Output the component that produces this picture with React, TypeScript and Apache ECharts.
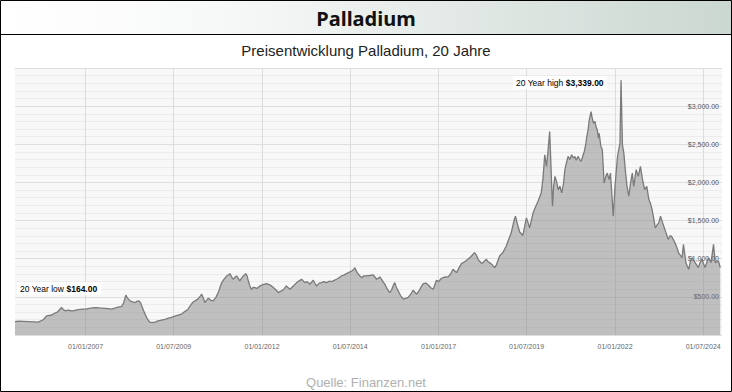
import React, { useEffect, useRef } from "react";
import * as echarts from "echarts";

// decimal years (time of each reading) and price in USD per ounce
const years = [
  2005.0, 2005.1, 2005.25, 2005.4, 2005.55, 2005.66, 2005.8, 2005.9, 2006.04, 2006.12,
  2006.2, 2006.28, 2006.32, 2006.38, 2006.42, 2006.5, 2006.58, 2006.65, 2006.75, 2006.9,
  2007.0, 2007.15, 2007.27, 2007.4, 2007.55, 2007.65, 2007.74, 2007.85, 2007.95, 2008.02,
  2008.08, 2008.14, 2008.18, 2008.26, 2008.33, 2008.4, 2008.46, 2008.51, 2008.56, 2008.59,
  2008.66, 2008.73, 2008.78, 2008.82, 2008.9, 2008.97, 2009.05, 2009.15, 2009.25, 2009.35,
  2009.43, 2009.55, 2009.65, 2009.72, 2009.82, 2009.9, 2009.96, 2010.03, 2010.1, 2010.18,
  2010.25, 2010.29, 2010.34, 2010.38, 2010.44, 2010.48, 2010.55, 2010.62, 2010.7, 2010.76,
  2010.82, 2010.86, 2010.92, 2011.0, 2011.05, 2011.09, 2011.14, 2011.18, 2011.24, 2011.28,
  2011.33, 2011.37, 2011.42, 2011.47, 2011.54, 2011.58, 2011.6, 2011.65, 2011.7, 2011.75,
  2011.8, 2011.86, 2011.94, 2012.03, 2012.13, 2012.2, 2012.27, 2012.35, 2012.42, 2012.46,
  2012.55, 2012.62, 2012.69, 2012.74, 2012.79, 2012.88, 2012.98, 2013.05, 2013.12, 2013.21,
  2013.28, 2013.35, 2013.45, 2013.54, 2013.62, 2013.68, 2013.75, 2013.83, 2013.9, 2013.97,
  2014.04, 2014.11, 2014.18, 2014.25, 2014.32, 2014.39, 2014.46, 2014.54, 2014.6, 2014.63,
  2014.68, 2014.73, 2014.78, 2014.82, 2014.89, 2014.96, 2015.05, 2015.15, 2015.25, 2015.34,
  2015.4, 2015.48, 2015.55, 2015.62, 2015.67, 2015.72, 2015.76, 2015.81, 2015.86, 2015.92,
  2016.0, 2016.07, 2016.14, 2016.22, 2016.28, 2016.33, 2016.38, 2016.45, 2016.52, 2016.57,
  2016.64, 2016.71, 2016.78, 2016.85, 2016.94, 2017.0, 2017.08, 2017.17, 2017.27, 2017.34,
  2017.41, 2017.46, 2017.51, 2017.58, 2017.65, 2017.74, 2017.83, 2017.92, 2018.02, 2018.07,
  2018.12, 2018.18, 2018.23, 2018.3, 2018.36, 2018.4, 2018.45, 2018.52, 2018.59, 2018.64,
  2018.68, 2018.73, 2018.82, 2018.92, 2018.97, 2019.06, 2019.14, 2019.18, 2019.22, 2019.3,
  2019.39, 2019.44, 2019.49, 2019.54, 2019.58, 2019.63, 2019.68, 2019.75, 2019.82, 2019.91,
  2019.96, 2020.01, 2020.06, 2020.1, 2020.15, 2020.18, 2020.21, 2020.23, 2020.26, 2020.3,
  2020.35, 2020.39, 2020.44, 2020.49, 2020.54, 2020.58, 2020.62, 2020.67, 2020.72, 2020.77,
  2020.82, 2020.86, 2020.9, 2020.95, 2021.0, 2021.04, 2021.09, 2021.13, 2021.17, 2021.2,
  2021.24, 2021.27, 2021.32, 2021.35, 2021.39, 2021.43, 2021.46, 2021.5, 2021.53, 2021.55,
  2021.6, 2021.64, 2021.69, 2021.74, 2021.78, 2021.83, 2021.87, 2021.92, 2021.95, 2022.0,
  2022.07, 2022.14, 2022.17, 2022.21, 2022.25, 2022.3, 2022.34, 2022.39, 2022.44, 2022.49,
  2022.53, 2022.6, 2022.66, 2022.72, 2022.78, 2022.84, 2022.9, 2022.96, 2023.0, 2023.05,
  2023.1, 2023.14, 2023.19, 2023.24, 2023.29, 2023.35, 2023.43, 2023.51, 2023.56, 2023.6,
  2023.7, 2023.75, 2023.8, 2023.9, 2023.94, 2024.01, 2024.05, 2024.09, 2024.13, 2024.18,
  2024.27, 2024.36, 2024.41, 2024.46, 2024.55, 2024.6, 2024.65, 2024.72, 2024.79, 2024.84,
  2024.93, 2024.98,
];

const prices = [
  174, 180, 178, 176, 172, 168, 200, 252, 262, 285,
  300, 340, 360, 330, 317, 325, 318, 317, 330, 340,
  338, 352, 360, 355, 350, 345, 340, 355, 370, 373,
  420, 522, 490, 448, 435, 426, 440, 448, 420, 383,
  300, 230, 190, 168, 164, 170, 185, 195, 205, 220,
  230, 250, 265, 274, 310, 335, 380, 426, 448, 470,
  510, 535, 480, 426, 460, 483, 455, 448, 500, 556,
  640, 687, 730, 774, 790, 804, 760, 731, 760, 774,
  740, 709, 745, 774, 804, 770, 731, 650, 600, 625,
  621, 610, 643, 660, 674, 660, 643, 610, 580, 556,
  578, 600, 643, 620, 600, 640, 687, 710, 731, 687,
  700, 665, 717, 643, 680, 687, 700, 687, 705, 700,
  715, 731, 750, 774, 785, 804, 820, 839, 860, 883,
  830, 796, 770, 752, 775, 774, 780, 787, 731, 761,
  720, 665, 600, 556, 590, 650, 687, 620, 578, 520,
  470, 480, 492, 540, 587, 560, 535, 580, 640, 674,
  680, 656, 620, 600, 718, 700, 744, 760, 761, 800,
  861, 840, 818, 880, 935, 960, 992, 1030, 1078, 1050,
  992, 960, 935, 970, 992, 960, 948, 920, 883, 920,
  970, 1035, 1078, 1166, 1231, 1339, 1501, 1557, 1480, 1350,
  1305, 1420, 1535, 1470, 1405, 1500, 1600, 1680, 1753, 1862,
  2050, 2363, 2210, 2400, 2667, 2300, 1900, 1688, 1950, 2080,
  2000, 1906, 1950, 1862, 1980, 2167, 2250, 2341, 2300, 2363,
  2320, 2341, 2290, 2341, 2300, 2276, 2350, 2406, 2500, 2602,
  2700, 2820, 2928, 2850, 2776, 2800, 2733, 2680, 2580, 2645,
  2471, 2428, 1992, 2080, 2123, 2036, 2123, 1775, 1557, 1949,
  2341, 2515, 3339, 2493, 2384, 2123, 1949, 1819, 1992, 2123,
  1949, 2167, 2080, 2210, 2036, 1906, 1949, 1775, 1731, 1645,
  1520, 1405, 1440, 1470, 1557, 1470, 1362, 1253, 1300, 1296,
  1209, 1150, 1078, 1013, 1188, 948, 900, 861, 950, 1013,
  948, 883, 950, 992, 883, 950, 1013, 948, 1188, 948,
  970, 883,
];

const xTickLabels = [
  "01/01/2007", "01/07/2009", "01/01/2012", "01/07/2014",
  "01/01/2017", "01/07/2019", "01/01/2022", "01/07/2024",
];
const yTickValues = [500, 1000, 1500, 2000, 2500, 3000];

function yearToTs(y: number): number {
  const yr = Math.floor(y);
  const start = Date.UTC(yr, 0, 1);
  const end = Date.UTC(yr + 1, 0, 1);
  return start + (y - yr) * (end - start);
}
function parseTick(s: string): number {
  const [d, m, y] = s.split("/").map(Number);
  return Date.UTC(y, m - 1, d);
}
function money(v: number): string {
  return "$" + v.toLocaleString("en-US", { minimumFractionDigits: 2, maximumFractionDigits: 2 });
}

export default function App() {
  const ref = useRef<HTMLDivElement>(null);
  useEffect(() => {
    document.body.style.margin = "0";
    if (!ref.current) return;
    const chart = echarts.init(ref.current, undefined, { renderer: "svg" });
    const tickTs = xTickLabels.map(parseTick);
    const data = years.map((y, i) => [yearToTs(y), prices[i]]);
    const hi = Math.max(...prices);
    const lo = Math.min(...prices);
    const font = "Liberation Sans, Arial, sans-serif";
    const rich = {
      a: { fontSize: 8.5, color: "#8a8a8a", fontFamily: font },
      b: { fontSize: 8.5, color: "#444", fontFamily: font, fontWeight: "bold" },
    };

    chart.setOption({
      animation: false,
      backgroundColor: "#ffffff",
      title: [
        {
          text: "Palladium",
          left: "center",
          top: 8,
          padding: 0,
          textStyle: { fontSize: 20, fontWeight: "bold", color: "#111", fontFamily: "Noto Sans, sans-serif" },
        },
        {
          text: "Preisentwicklung Palladium, 20 Jahre",
          left: "center",
          top: 43,
          padding: 0,
          textStyle: { fontSize: 15, fontWeight: "normal", color: "#222", fontFamily: font },
        },
        {
          text: "Quelle: Finanzen.net",
          left: "center",
          top: 375,
          padding: 0,
          textStyle: { fontSize: 13, lineHeight: 14, fontWeight: "normal", color: "#b0b0b0", fontFamily: font },
        },
      ],
      graphic: [
        {
          type: "rect",
          z: -10,
          silent: true,
          shape: { x: 0, y: 0, width: 732, height: 35 },
          style: {
            fill: new echarts.graphic.LinearGradient(0, 0, 1, 0, [
              { offset: 0, color: "#ffffff" },
              { offset: 0.3, color: "#f7f9f8" },
              { offset: 1, color: "#cbd7d1" },
            ]),
          },
        },
        {
          type: "line",
          z: 20,
          silent: true,
          shape: { x1: 0, y1: 34.5, x2: 732, y2: 34.5 },
          style: { stroke: "#000", lineWidth: 1 },
        },
        {
          type: "rect",
          z: 20,
          silent: true,
          shape: { x: 0.5, y: 0.5, width: 731, height: 391 },
          style: { fill: "none", stroke: "#000", lineWidth: 1 },
        },
        {
          type: "text",
          z: 30,
          x: 513,
          y: 76,
          style: {
            text: "{a|20 Year high }{b|" + money(hi) + "}",
            backgroundColor: "rgba(255,255,255,0.95)",
            padding: [2, 3, 2, 3],
            rich,
          },
        },
        {
          type: "text",
          z: 30,
          x: 17,
          y: 282,
          style: {
            text: "{a|20 Year low }{b|" + money(lo) + "}",
            backgroundColor: "rgba(255,255,255,0.95)",
            padding: [2, 4, 2, 3],
            rich,
          },
        },
      ],
      grid: {
        left: 15,
        right: 10,
        top: 68,
        bottom: 57,
        show: true,
        backgroundColor: "#f8f8f8",
        borderWidth: 0,
      },
      xAxis: {
        type: "value",
        min: Date.UTC(2005, 0, 1),
        max: yearToTs(2025.03),
        axisLine: { show: false },
        axisTick: { show: false, customValues: tickTs },
        axisLabel: {
          customValues: tickTs,
          fontSize: 7,
          color: "#666",
          fontFamily: font,
          margin: 8,
          hideOverlap: false,
          showMinLabel: true,
          showMaxLabel: true,
          formatter: (v: number) => {
            const i = tickTs.indexOf(v);
            return i >= 0 ? xTickLabels[i] : "";
          },
        },
        splitLine: { show: true, lineStyle: { color: "#dcdcdc", width: 1 } },
      },
      yAxis: {
        type: "value",
        position: "right",
        min: 0,
        max: 3500,
        interval: 500,
        axisLine: { show: false },
        axisTick: { show: false },
        axisLabel: {
          inside: true,
          margin: 3,
          fontSize: 7,
          color: "#555",
          fontFamily: font,
          formatter: (v: number) => (yTickValues.indexOf(v) >= 0 ? money(v) : ""),
        },
        splitLine: { show: true, lineStyle: { color: "#dedede", width: 1 } },
        minorTick: { show: false, splitNumber: 5 },
        minorSplitLine: { show: true, lineStyle: { color: "#ececec", width: 1 } },
      },
      series: [
        {
          type: "line",
          data,
          symbol: "none",
          showSymbol: false,
          lineStyle: { color: "#7a7a7a", width: 1.3 },
          areaStyle: { color: "#808080", opacity: 0.47 },
        },
      ],
    });
    return () => chart.dispose();
  }, []);
  return <div ref={ref} style={{ width: 732, height: 392 }} />;
}
